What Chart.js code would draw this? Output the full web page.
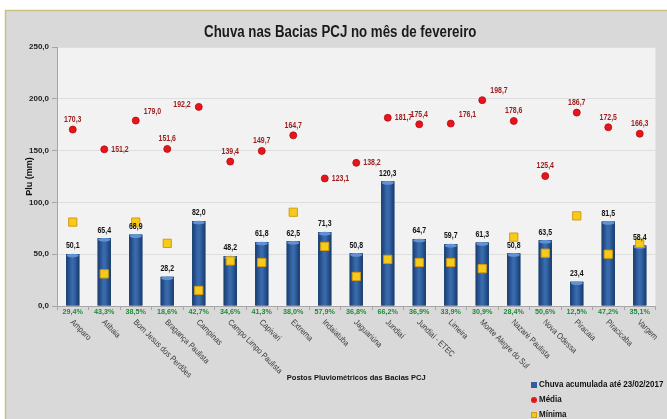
<!DOCTYPE html>
<html><head><meta charset="utf-8">
<script src="https://cdn.jsdelivr.net/npm/chart.js@4.4.1/dist/chart.umd.min.js"></script>
<style>html,body{margin:0;padding:0;background:#fff;}canvas{display:block;}</style>
</head><body>
<canvas id="c" width="667" height="419"></canvas>
<script>
const categories = ['Amparo','Atibaia','Bom Jesus dos Perdões','Bragança Paulista','Campinas','Campo Limpo Paulista','Capivari','Extrema','Indaiatuba','Jaguariúna','Jundiaí','Jundiaí - ETEC','Limeira','Monte Alegre do Sul','Nazaré Paulista','Nova Odessa','Piracaia','Piracicaba','Vargem'];
const chuva = [50.1,65.4,68.9,28.2,82.0,48.2,61.8,62.5,71.3,50.8,120.3,64.7,59.7,61.3,50.8,63.5,23.4,81.5,58.4];
const media = [170.3,151.2,179.0,151.6,192.2,139.4,149.7,164.7,123.1,138.2,181.7,175.4,176.1,198.7,178.6,125.4,186.7,172.5,166.3];
const minima = [81,31,81,60.5,15,43.5,42,90.5,57.5,28.5,45,42,42,36,66.5,51,87,50,60.5];
const percentuais = ['29,4%','43,3%','38,5%','18,6%','42,7%','34,6%','41,3%','38,0%','57,9%','36,8%','66,2%','36,9%','33,9%','30,9%','28,4%','50,6%','12,5%','47,2%','35,1%'];
const yTicks = [0,50,100,150,200,250];
const mediaLabelSide = ['top','right','topright','top','left','top','top','top','right','right','right','top','topright','topright','top','top','top','top','top'];
const chartTitle = 'Chuva nas Bacias PCJ no mês de fevereiro';

const FN = "'Liberation Sans',Arial,sans-serif";
const fmt = v => v.toFixed(1).replace('.', ',');

function txt(ctx, s, x, y, align, sx, rot) {
  ctx.save();
  ctx.translate(x, y);
  if (rot) ctx.rotate(rot);
  ctx.scale(sx, 1);
  ctx.textAlign = align;
  ctx.fillText(s, 0, 0);
  ctx.restore();
}

const deco = {
  id: 'deco',
  beforeDraw(chart) {
    const {ctx, chartArea: a} = chart;
    ctx.save();
    ctx.fillStyle = '#ffffff';
    ctx.fillRect(0, 0, chart.width, chart.height);
    ctx.fillStyle = '#d9d9d9';
    ctx.fillRect(5, 10, chart.width - 5, chart.height - 10);
    ctx.strokeStyle = '#c9c27e';
    ctx.lineWidth = 1.5;
    ctx.beginPath();
    ctx.moveTo(5.5, chart.height); ctx.lineTo(5.5, 10.5); ctx.lineTo(chart.width, 10.5);
    ctx.stroke();
    ctx.fillStyle = '#f2f2f2';
    ctx.fillRect(a.left, a.top, a.right - a.left, a.bottom - a.top);
    ctx.font = "bold 16px " + FN;
    ctx.fillStyle = '#1a1a1a';
    ctx.textBaseline = 'middle';
    txt(ctx, chartTitle, (a.left + a.right) / 2 - 16, 33, 'center', 0.83);
    ctx.restore();
  },
  afterDatasetDraw(chart, args) {
    if (args.index !== 0) return;
    const {ctx} = chart;
    const meta = chart.getDatasetMeta(0);
    ctx.save();
    meta.data.forEach(el => {
      const w = el.width / 2;
      if (!isFinite(el.x) || !isFinite(w)) return;
      const g = ctx.createLinearGradient(el.x - w, 0, el.x + w, 0);
      g.addColorStop(0, '#183c6e');
      g.addColorStop(0.45, '#3a6bb0');
      g.addColorStop(0.6, '#3566a8');
      g.addColorStop(1, '#173a6a');
      ctx.fillStyle = g;
      ctx.fillRect(el.x - w, el.y, 2 * w, el.base - el.y);
      ctx.fillStyle = '#5f93d6';
      ctx.beginPath();
      ctx.ellipse(el.x, el.y + 1.5, w - 0.5, 1.8, 0, 0, Math.PI * 2);
      ctx.fill();
    });
    ctx.restore();
  },
  afterDraw(chart) {
    const {ctx, scales: {x}} = chart;
    ctx.save();
    ctx.textBaseline = 'middle';
    const barMeta = chart.getDatasetMeta(0);
    ctx.font = "bold 8.5px " + FN;
    ctx.fillStyle = '#111111';
    barMeta.data.forEach((el, i) => txt(ctx, fmt(chuva[i]), el.x, el.y - 8, 'center', 0.82));
    const medMeta = chart.getDatasetMeta(1);
    ctx.fillStyle = '#9b1c1c';
    medMeta.data.forEach((el, i) => {
      const s = mediaLabelSide[i];
      let tx = el.x, ty = el.y - 10, al = 'center';
      if (s === 'right') { tx = el.x + 7; ty = el.y; al = 'left'; }
      else if (s === 'left') { tx = el.x - 8; ty = el.y - 2; al = 'right'; }
      else if (s === 'topright') { tx = el.x + 8; ty = el.y - 9; al = 'left'; }
      txt(ctx, fmt(media[i]), tx, ty, al, 0.82);
    });
    ctx.font = "bold 8px " + FN;
    ctx.fillStyle = '#1f8a3a';
    categories.forEach((c, i) => txt(ctx, percentuais[i], x.getPixelForValue(i), x.top + 6, 'center', 0.9));
    ctx.font = "8.5px " + FN;
    ctx.fillStyle = '#3a3a3a';
    categories.forEach((c, i) => {
      txt(ctx, c, x.getPixelForValue(i) - 1, x.top + 15, 'left', 0.85, Math.PI / 4);
    });
    const lx = 531, ly = 385;
    ctx.fillStyle = '#2f5f9e'; ctx.fillRect(lx, ly - 3, 6, 6);
    ctx.fillStyle = '#e8141b'; ctx.beginPath(); ctx.arc(lx + 3, ly + 15, 3, 0, Math.PI * 2); ctx.fill();
    ctx.fillStyle = '#f5c518'; ctx.fillRect(lx, ly + 27, 6, 6);
    ctx.strokeStyle = '#d49a10'; ctx.lineWidth = 1; ctx.strokeRect(lx + 0.5, ly + 27.5, 5, 5);
    ctx.font = "bold 8.5px " + FN;
    ctx.fillStyle = '#111111';
    txt(ctx, chart.data.datasets[0].label, lx + 8, ly, 'left', 0.94);
    txt(ctx, chart.data.datasets[1].label, lx + 8, ly + 15, 'left', 0.94);
    txt(ctx, chart.data.datasets[2].label, lx + 8, ly + 30, 'left', 0.94);
    ctx.restore();
  }
};

new Chart(document.getElementById('c'), {
  type: 'bar',
  data: {
    labels: categories,
    datasets: [
      {
        label: 'Chuva acumulada até 23/02/2017',
        data: chuva,
        order: 3,
        barPercentage: 0.42,
        categoryPercentage: 1.0,
        borderWidth: 0,
        backgroundColor: '#2b5797'
      },
      {
        label: 'Média',
        type: 'line',
        data: media,
        order: 1,
        showLine: false,
        pointStyle: 'circle',
        pointRadius: 3.5,
        pointBackgroundColor: '#e8141b',
        pointBorderColor: '#b30d12',
        pointBorderWidth: 0.8,
        backgroundColor: '#e8141b',
        borderColor: '#e8141b'
      },
      {
        label: 'Mínima',
        type: 'line',
        data: minima,
        order: 2,
        showLine: false,
        pointStyle: 'rect',
        pointRadius: 5.8,
        pointBackgroundColor: '#f7cb1a',
        pointBorderColor: '#d49a10',
        pointBorderWidth: 1,
        backgroundColor: '#f7cb1a',
        borderColor: '#d49a10'
      }
    ]
  },
  options: {
    responsive: false,
    animation: false,
    devicePixelRatio: 1,
    layout: { padding: { top: 47, right: 11.5, bottom: 36, left: 0 } },
    plugins: {
      legend: { display: false },
      tooltip: { enabled: false },
      title: { display: false }
    },
    scales: {
      x: {
        grid: { display: true, drawOnChartArea: false, drawTicks: true, tickLength: 4, color: '#a6a6a6', offset: true },
        border: { color: '#a6a6a6' },
        ticks: { display: false },
        title: {
          display: true,
          text: 'Postos Pluviométricos das Bacias PCJ',
          color: '#111111',
          font: { family: FN, size: 7.5, weight: 'bold' },
          padding: { top: 0, bottom: 1 }
        },
        afterFit(s) { s.height = 77; }
      },
      y: {
        min: 0,
        max: 250,
        afterBuildTicks(s) { s.ticks = yTicks.map(v => ({ value: v })); },
        ticks: {
          color: '#222222',
          font: { family: FN, size: 8, weight: 'bold' },
          padding: 3,
          callback: v => fmt(v)
        },
        grid: { color: '#dedede', tickColor: '#a6a6a6', tickLength: 5 },
        border: { color: '#a6a6a6' },
        title: {
          display: true,
          text: 'Plu (mm)',
          color: '#111111',
          font: { family: FN, size: 9, weight: 'bold' },
          padding: { top: 24, bottom: 0 }
        },
        afterFit(s) { s.width = 57; }
      }
    }
  },
  plugins: [deco]
});
</script>
</body></html>
